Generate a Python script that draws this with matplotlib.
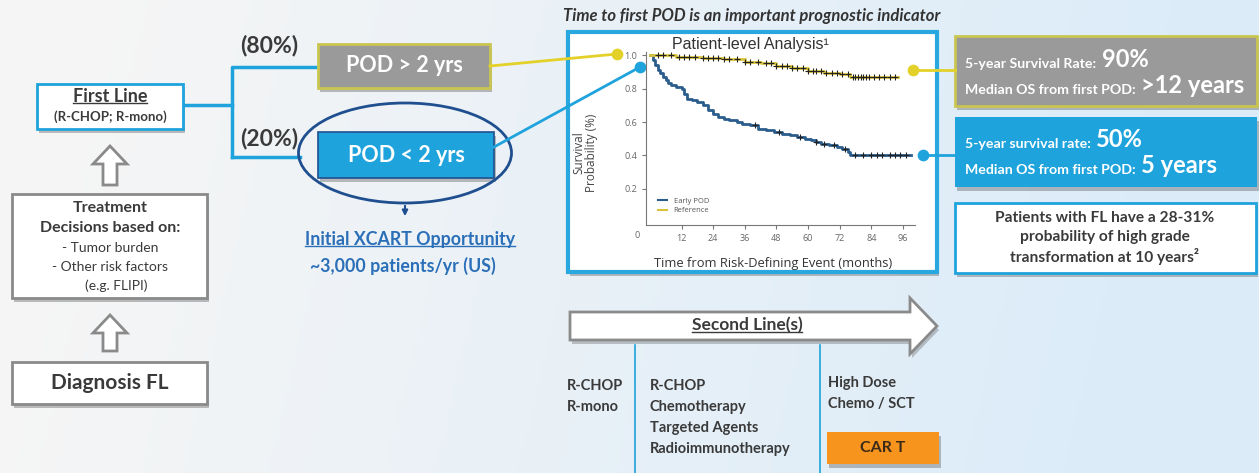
import matplotlib.pyplot as plt
import numpy as np
from matplotlib.patches import Rectangle, Ellipse, Polygon
from matplotlib.lines import Line2D

plt.rcParams["font.family"] = ["Lato", "DejaVu Sans"]

# Kaplan-Meier curves (months, survival probability)
early_t = [0, 1, 2, 3, 4, 5, 6, 7, 8, 10, 12, 13, 14, 16, 18, 20, 22, 24, 26, 28,
           30, 33, 35, 38, 41, 44, 47, 50, 53, 56, 59, 61, 63, 65, 68, 71, 73, 75, 76, 99]
early_s = [1.00, 0.97, 0.94, 0.91, 0.89, 0.87, 0.85, 0.83, 0.82, 0.81, 0.80, 0.77, 0.74,
           0.73, 0.72, 0.70, 0.67, 0.65, 0.63, 0.62, 0.61, 0.60, 0.59, 0.58, 0.56, 0.55,
           0.54, 0.53, 0.52, 0.51, 0.50, 0.49, 0.48, 0.47, 0.46, 0.45, 0.44, 0.42, 0.40, 0.40]
early_cens = [40, 49, 57, 63, 66, 70, 74, 78, 81, 84, 86, 88, 91, 93, 95, 97]

ref_t = [0, 10, 20, 28, 36, 42, 48, 54, 60, 66, 72, 76, 94]
ref_s = [1.00, 0.99, 0.985, 0.975, 0.96, 0.95, 0.935, 0.92, 0.905, 0.895, 0.885, 0.87, 0.87]
ref_cens = [3, 5, 8, 11, 13, 15, 17, 20, 22, 24, 26, 28, 30, 33, 36, 38, 41, 44, 46, 48,
            50, 52, 54, 56, 58, 60, 62, 63, 65, 67, 69, 71, 73, 75, 77, 78, 79, 80, 81,
            82, 83, 85, 87, 89, 91, 93]

series_names = ["Early POD", "Reference"]
x_ticks = [12, 24, 36, 48, 60, 72, 84, 96]
y_ticks = [0.2, 0.4, 0.6, 0.8, 1.0]

BLUE = "#1fa3dc"
DARKBLUE = "#1f4f8f"
GRAY = "#9a9a9a"
OLIVE = "#c9c550"
TXT = "#3a3a3a"

W, H = 1259, 473
fig = plt.figure(figsize=(W / 100, H / 100), dpi=100)
ax = fig.add_axes([0, 0, 1, 1])
ax.set_xlim(0, W)
ax.set_ylim(H, 0)
ax.axis("off")

# soft background gradient
gx, gy = np.meshgrid(np.linspace(0, 1, 256), np.linspace(0, 1, 64))
f = np.clip(gx * 1.15 - 0.1 + 0.1 * gy, 0, 1)[..., None]
bg = np.array([0.962, 0.962, 0.962]) * (1 - f) + np.array([0.86, 0.925, 0.975]) * f
ax.imshow(bg, extent=(0, W, H, 0), aspect="auto", zorder=0)


def box(x0, y0, x1, y1, fc, ec=None, lw=1.5, shadow=True, z=2):
    if shadow:
        ax.add_patch(Rectangle((x0 + 2, y0 + 4), x1 - x0, y1 - y0, fc="#4a4a4a",
                               ec="none", alpha=0.35, zorder=z - 0.1))
    ax.add_patch(Rectangle((x0, y0), x1 - x0, y1 - y0, fc=fc,
                           ec=ec if ec else "none", lw=lw, zorder=z))


def up_arrow(cx, ytip, ybot):
    pts = [(cx, ytip), (cx + 17, ytip + 18), (cx + 7, ytip + 18), (cx + 7, ybot),
           (cx - 7, ybot), (cx - 7, ytip + 18), (cx - 17, ytip + 18)]
    ax.add_patch(Polygon(pts, closed=True, fc="white", ec="#8a8a8a", lw=2, zorder=3))


def two_size(x, y, small, big, color):
    t = ax.text(x, y, small, fontsize=10.2, weight="bold", color=color,
                va="baseline", zorder=5)
    ax.annotate(big, xy=(1, 0), xycoords=t, xytext=(1.5, 2.2), textcoords="offset points",
                fontsize=17, weight="bold", color=color, va="baseline", zorder=5)


def label(x, y, s, size, **kw):
    kw.setdefault("ha", "center")
    kw.setdefault("color", TXT)
    return ax.text(x, y, s, va="center", fontsize=size, zorder=5, **kw)


underlined = []

# ---- left column ----
box(37, 84, 183, 129, "white", BLUE, 2)
underlined.append((label(110, 96, "First Line", 13, weight="bold"), TXT))
label(110, 117, "(R-CHOP; R-mono)", 9.5, weight="bold")

up_arrow(110, 146, 185)

box(12, 194, 207, 298, "white", "#8a8a8a", 2)
label(110, 208, "Treatment", 11.5, weight="bold")
label(110, 228, "Decisions based on:", 11.5, weight="bold")
label(110, 248, "- Tumor burden", 10)
label(110, 267, "- Other risk factors", 10)
label(116, 286, "(e.g. FLIPI)", 10)

up_arrow(110, 315, 351)

box(12, 362, 207, 404, "white", "#8a8a8a", 2)
label(110, 383, "Diagnosis FL", 15, weight="bold")

# ---- branches ----
ax.plot([183, 232], [105, 105], color=BLUE, lw=2.5, zorder=1.5)
ax.plot([232, 232, 318], [157, 67, 67], color=BLUE, lw=2.5, zorder=1.5)
ax.plot([232, 300], [157, 157], color=BLUE, lw=2.5, zorder=1.5)
label(269, 45, "(80%)", 16.5, weight="bold")
label(269, 138, "(20%)", 16.5, weight="bold")

box(318, 44, 490, 88, GRAY, OLIVE, 2)
label(404, 66, "POD > 2 yrs", 15.5, weight="bold", color="white")

ax.add_patch(Ellipse((405, 153), 213, 100, fc="none", ec=DARKBLUE, lw=2, zorder=4))
box(318, 132, 494, 178, BLUE, DARKBLUE, 1.2)
label(406, 155, "POD < 2 yrs", 15.5, weight="bold", color="white")

ax.annotate("", xy=(405, 219), xytext=(405, 203),
            arrowprops=dict(arrowstyle="-|>", color=DARKBLUE, lw=1.5, mutation_scale=8),
            zorder=4)
underlined.append((label(410, 239, "Initial XCART Opportunity", 12.8, weight="bold",
                         color="#2a6fb8"), "#2a6fb8"))
label(403, 266, "~3,000 patients/yr (US)", 12.8, weight="bold", color="#2a6fb8")

# ---- survival chart frame ----
label(752, 16, "Time to first POD is an important prognostic indicator", 12,
      weight="bold", style="italic", color="#333333")
box(568, 32, 937, 272, "white", "#29a8e0", 3)
label(750, 45, "Patient-level Analysis\u00b9", 11.5, family=["Liberation Sans"],
      color="#333333")
label(637, 235, "0", 6.5, family=["Open Sans"], color="#666666")

# connectors and dots
ax.plot([490, 617], [66, 54], color="#e3d12a", lw=2, zorder=6)
ax.plot([494, 640], [147, 67], color=BLUE, lw=2, zorder=6)
ax.plot([913, 955], [70, 70], color="#e3d12a", lw=2, zorder=6)
ax.plot([923, 955], [155, 155], color=BLUE, lw=2, zorder=6)
ax.scatter([617, 913], [54, 70], s=55, color="#e3d12a", zorder=7)
ax.scatter([640, 923], [67, 155], s=55, color=BLUE, zorder=7)

# ---- right boxes ----
box(955, 36, 1257, 106, GRAY, OLIVE, 2)
two_size(965, 68, "5-year Survival Rate: ", "90%", "white")
two_size(965, 94, "Median OS from first POD: ", ">12 years", "white")

box(955, 117, 1257, 187, BLUE)
two_size(965, 148, "5-year survival rate: ", "50%", "white")
two_size(965, 174, "Median OS from first POD: ", "5 years", "white")

box(955, 203, 1256, 273, "white", BLUE, 2)
for yy, line in zip([218, 237, 256], ["Patients with FL have a 28-31%",
                                      "probability of high grade",
                                      "transformation at 10 years\u00b2"]):
    label(1105, yy, line, 11.2, weight="bold")

# ---- second line ----
arrow = [(570, 312), (910, 312), (910, 298), (937, 326), (910, 354), (910, 340), (570, 340)]
ax.add_patch(Polygon([(x + 2, y + 4) for x, y in arrow], closed=True, fc="#4a4a4a",
                     ec="none", alpha=0.3, zorder=2))
ax.add_patch(Polygon(arrow, closed=True, fc="white", ec="#8a8a8a", lw=2, zorder=3))
underlined.append((label(747, 325, "Second Line(s)", 12.5, weight="bold"), TXT))

ax.plot([635, 635], [345, 473], color=BLUE, lw=1.2, zorder=2)
ax.plot([820, 820], [345, 473], color=BLUE, lw=1.2, zorder=2)
for yy, line in zip([386, 407], ["R-CHOP", "R-mono"]):
    label(567, yy, line, 10.5, ha="left", weight="bold")
for yy, line in zip([386, 407, 428, 449],
                    ["R-CHOP", "Chemotherapy", "Targeted Agents", "Radioimmunotherapy"]):
    label(650, yy, line, 10.5, ha="left", weight="bold")
for yy, line in zip([383, 404], ["High Dose", "Chemo / SCT"]):
    label(828, yy, line, 10.5, ha="left", weight="bold")
box(827, 432, 939, 464, "#f7941d")
label(883, 448, "CAR T", 11.5, weight="bold", color="#3a2a1a")

# ---- KM inset ----
km = fig.add_axes([646 / W, 1 - 225 / H, (915 - 646) / W, (225 - 52) / H])
km.set_facecolor("none")
km.set_xlim(-1.5, 100.6)
km.set_ylim(-0.015, 1.018)
for s in ["top", "right"]:
    km.spines[s].set_visible(False)
for s in ["left", "bottom"]:
    km.spines[s].set_color("#777777")
    km.spines[s].set_linewidth(0.8)
km.set_xticks(x_ticks)
km.set_yticks(y_ticks)
km.set_yticklabels([f"{v:.1f}" for v in y_ticks])
km.tick_params(labelsize=6.5, colors="#777777", labelcolor="#666666", length=3)
for lab in km.get_xticklabels() + km.get_yticklabels():
    lab.set_family(["Open Sans"])

for tt, ss, cens, col in [(early_t, early_s, early_cens, "#2b5d8c"),
                          (ref_t, ref_s, ref_cens, "#d8c43c")]:
    km.step(tt, ss, where="post", color=col, lw=2)
    idx = np.searchsorted(tt, cens, side="right") - 1
    km.plot(cens, np.array(ss)[idx], "+", color="#222222", ms=4, mew=0.8)

km.set_ylabel("Survival\nProbability (%)", fontsize=8.5, family=["Open Sans"],
              color="#444444", linespacing=1.0)
km.yaxis.set_label_coords(-0.178, 0.416)
km.set_xlabel("Time from Risk-Defining Event (months)", fontsize=9.3,
              family=["Open Sans"], color="#333333")
km.xaxis.set_label_coords(0.472, -0.185)
handles = [Line2D([], [], color="#2b5d8c", lw=1.5), Line2D([], [], color="#d8c43c", lw=1.5)]
km.legend(handles, series_names, loc="upper left", bbox_to_anchor=(0.02, 0.2),
          frameon=False, handlelength=1.2, labelspacing=0.3,
          prop={"family": "Open Sans", "size": 5.5}, labelcolor="#555555")

# underlines
fig.canvas.draw()
r = fig.canvas.get_renderer()
inv = ax.transData.inverted()
for t, col in underlined:
    bb = t.get_window_extent(r)
    (x0, y0), (x1, y1) = inv.transform([[bb.x0, bb.y0], [bb.x1, bb.y1]])
    yb = max(y0, y1) - 1.5
    ax.plot([x0, x1], [yb, yb], color=col, lw=1, zorder=5)

fig.savefig("out.png", dpi=100)
